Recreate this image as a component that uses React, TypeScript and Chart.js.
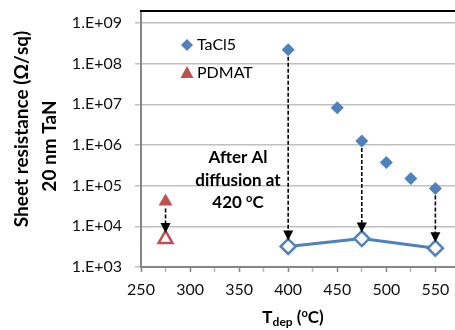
import React, { useEffect, useRef } from 'react';
import { Chart, registerables } from 'chart.js';

Chart.register(...registerables);

// ---- data ----
const tacl5Temps = [400, 450, 475, 500, 525, 550];
const tacl5Rs = [2.2e8, 8.2e6, 1.26e6, 3.7e5, 1.5e5, 8.5e4];
const afterAlTemps = [400, 475, 550];
const afterAlRs = [3.2e3, 5.0e3, 2.9e3];
const pdmatTemps = [275];
const pdmatRs = [4.1e4];
const pdmatAfterRs = [4.9e3];

const xTickValues = [250, 275, 300, 325, 350, 375, 400, 425, 450, 475, 500, 525, 550];
const yTickValues = [1e3, 1e4, 1e5, 1e6, 1e7, 1e8, 1e9];
const legendLabels = ['TaCl5', 'PDMAT'];
const yTitleLines = ['Sheet resistance (Ω/sq)', '20 nm TaN'];
const annotationLines = ['After Al', 'diffusion at'];

const BLUE = '#4F81BD';
const RED = '#C0504D';
const FONT = 'Lato';

type Seg = { t: string; size: number; dy?: number };

function drawSegs(ctx: CanvasRenderingContext2D, segs: Seg[], cx: number, cy: number, weight: string) {
  let total = 0;
  const widths = segs.map((s) => {
    ctx.font = `${weight} ${s.size}px ${FONT}`;
    const w = ctx.measureText(s.t).width;
    total += w;
    return w;
  });
  let x = cx - total / 2;
  ctx.textAlign = 'left';
  ctx.textBaseline = 'middle';
  segs.forEach((s, i) => {
    ctx.font = `${weight} ${s.size}px ${FONT}`;
    ctx.fillText(s.t, x, cy + (s.dy || 0));
    x += widths[i];
  });
}

const overlay = {
  id: 'overlay',
  afterDatasetsDraw(chart: any) {
    const { ctx, chartArea, scales } = chart;
    const x = scales.x;
    const y = scales.y;
    ctx.save();
    // top border
    ctx.strokeStyle = '#000';
    ctx.lineWidth = 2;
    ctx.beginPath();
    ctx.moveTo(chartArea.left - 1, chartArea.top);
    ctx.lineTo(chartArea.right, chartArea.top);
    ctx.stroke();

    // arrows
    const arrows: { x: number; from: number; to: number }[] = [];
    afterAlTemps.forEach((t, i) => {
      const j = tacl5Temps.indexOf(t);
      arrows.push({ x: t, from: tacl5Rs[j], to: afterAlRs[i] });
    });
    pdmatTemps.forEach((t, i) => arrows.push({ x: t, from: pdmatRs[i], to: pdmatAfterRs[i] }));
    ctx.fillStyle = '#000';
    arrows.forEach((a) => {
      const px = x.getPixelForValue(a.x);
      const y0 = y.getPixelForValue(a.from) + 7;
      const y1 = y.getPixelForValue(a.to) - 6;
      ctx.setLineDash([4, 2]);
      ctx.lineWidth = 1.6;
      ctx.beginPath();
      ctx.moveTo(px, y0);
      ctx.lineTo(px, y1 - 9);
      ctx.stroke();
      ctx.setLineDash([]);
      ctx.beginPath();
      ctx.moveTo(px - 5, y1 - 10);
      ctx.lineTo(px + 5, y1 - 10);
      ctx.lineTo(px, y1);
      ctx.closePath();
      ctx.fill();
    });

    // legend
    const lx = chartArea.left + 46;
    const ly = [chartArea.top + 34, chartArea.top + 62];
    ctx.fillStyle = BLUE;
    ctx.beginPath();
    ctx.moveTo(lx, ly[0] - 6);
    ctx.lineTo(lx + 6, ly[0]);
    ctx.lineTo(lx, ly[0] + 6);
    ctx.lineTo(lx - 6, ly[0]);
    ctx.closePath();
    ctx.fill();
    ctx.fillStyle = RED;
    ctx.beginPath();
    ctx.moveTo(lx, ly[1] - 7);
    ctx.lineTo(lx + 6.5, ly[1] + 5);
    ctx.lineTo(lx - 6.5, ly[1] + 5);
    ctx.closePath();
    ctx.fill();
    ctx.fillStyle = '#000';
    ctx.font = `16px ${FONT}`;
    ctx.textAlign = 'left';
    ctx.textBaseline = 'middle';
    legendLabels.forEach((l, i) => ctx.fillText(l, lx + 10, ly[i]));

    // annotation
    const ax = chartArea.left + 97;
    ctx.fillStyle = '#000';
    drawSegs(ctx, [{ t: annotationLines[0], size: 17 }], ax, chartArea.top + 147, 'bold');
    drawSegs(ctx, [{ t: annotationLines[1], size: 17 }], ax, chartArea.top + 170, 'bold');
    drawSegs(
      ctx,
      [
        { t: '420 ', size: 17 },
        { t: 'o', size: 11, dy: -5 },
        { t: 'C', size: 17 },
      ],
      ax,
      chartArea.top + 192,
      'bold'
    );

    // x title
    drawSegs(
      ctx,
      [
        { t: 'T', size: 17 },
        { t: 'dep', size: 12, dy: 4 },
        { t: ' (', size: 17 },
        { t: 'o', size: 11, dy: -5 },
        { t: 'C)', size: 17 },
      ],
      293,
      318,
      'bold'
    );

    // y title
    ctx.save();
    ctx.translate(22, 129);
    ctx.rotate(-Math.PI / 2);
    ctx.font = `bold 19px ${FONT}`;
    ctx.textAlign = 'center';
    ctx.textBaseline = 'middle';
    ctx.fillText(yTitleLines[0], 0, 0);
    ctx.restore();
    ctx.save();
    ctx.translate(50, 146);
    ctx.rotate(-Math.PI / 2);
    ctx.font = `bold 19px ${FONT}`;
    ctx.textAlign = 'center';
    ctx.textBaseline = 'middle';
    ctx.fillText(yTitleLines[1], 0, 0);
    ctx.restore();

    ctx.restore();
  },
};

export default function App() {
  const ref = useRef<HTMLCanvasElement | null>(null);
  useEffect(() => {
    if (!ref.current) return;
    Chart.defaults.font.family = FONT;
    const chart: any = new Chart(ref.current, {
      type: 'scatter',
      data: {
        datasets: [
          {
            label: 'TaCl5',
            data: tacl5Temps.map((t, i) => ({ x: t, y: tacl5Rs[i] })),
            showLine: false,
            pointStyle: 'rectRot',
            pointRadius: 6.5,
            backgroundColor: BLUE,
            borderColor: BLUE,
            borderWidth: 0,
          },
          {
            label: 'TaCl5 after Al',
            data: afterAlTemps.map((t, i) => ({ x: t, y: afterAlRs[i] })),
            showLine: true,
            borderColor: BLUE,
            borderWidth: 3,
            pointStyle: 'rectRot',
            pointRadius: 7.5,
            pointBackgroundColor: '#ffffff',
            pointBorderColor: BLUE,
            pointBorderWidth: 2.5,
          },
          {
            label: 'PDMAT',
            data: pdmatTemps.map((t, i) => ({ x: t, y: pdmatRs[i] })),
            showLine: false,
            pointStyle: 'triangle',
            pointRadius: 8,
            backgroundColor: RED,
            borderColor: RED,
            borderWidth: 0,
          },
          {
            label: 'PDMAT after Al',
            data: pdmatTemps.map((t, i) => ({ x: t, y: pdmatAfterRs[i] })),
            showLine: false,
            pointStyle: 'triangle',
            pointRadius: 8,
            pointBackgroundColor: '#ffffff',
            pointBorderColor: RED,
            pointBorderWidth: 2.5,
          },
        ],
      },
      options: {
        animation: false,
        responsive: true,
        maintainAspectRatio: false,
        layout: { autoPadding: false, padding: { top: 11, left: 0, right: 0, bottom: 0 } },
        plugins: { legend: { display: false }, tooltip: { enabled: false } },
        scales: {
          x: {
            type: 'linear',
            min: 250,
            max: 570,
            afterBuildTicks: (s: any) => {
              s.ticks = xTickValues.map((v) => ({ value: v }));
            },
            afterFit: (s: any) => {
              s.height = 63;
              s.paddingLeft = 0;
              s.paddingRight = 0;
            },
            grid: {
              drawOnChartArea: false,
              drawTicks: true,
              tickLength: 5,
              tickColor: (c: any) => (c.tick && c.tick.value % 50 === 0 ? '#868686' : '#b8b8b8'),
              tickWidth: 1.5,
            },
            border: { color: '#868686', width: 2 },
            ticks: {
              autoSkip: false,
              maxRotation: 0,
              callback: (v: any) => (Number(v) % 50 === 0 ? String(v) : ''),
              font: { family: FONT, size: 16 },
              color: '#111',
              padding: 8,
            },
          },
          y: {
            type: 'logarithmic',
            min: 1000,
            max: 1.97e9,
            afterBuildTicks: (s: any) => {
              s.ticks = yTickValues.map((v) => ({ value: v }));
            },
            afterFit: (s: any) => {
              s.width = 141;
              s.paddingTop = 0;
              s.paddingBottom = 0;
            },
            grid: {
              color: '#c0c0c0',
              lineWidth: 1.5,
              tickLength: 6,
              tickColor: '#c0c0c0',
            },
            border: { color: '#868686', width: 2 },
            ticks: {
              autoSkip: false,
              callback: (v: any) =>
                '1.E+' + String(Math.round(Math.log10(Number(v)))).padStart(2, '0'),
              font: { family: FONT, size: 16 },
              color: '#111',
              padding: 13,
            },
          },
        },
      },
      plugins: [overlay],
    } as any);
    return () => chart.destroy();
  }, []);
  return (
    <div style={{ position: 'absolute', left: 0, top: 0, width: 455, height: 330, background: '#fff' }}>
      <canvas ref={ref} />
    </div>
  );
}
